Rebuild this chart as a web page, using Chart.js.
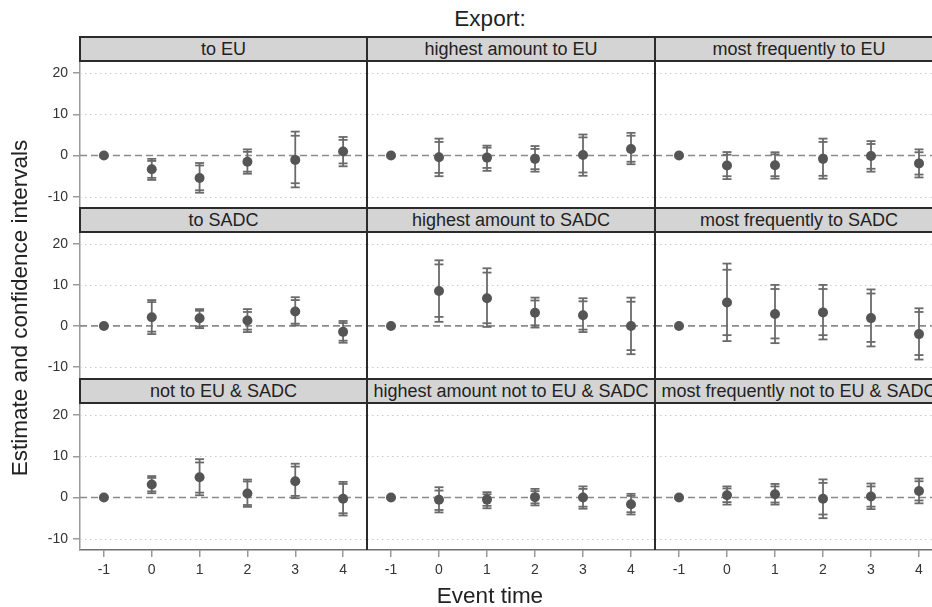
<!DOCTYPE html>
<html>
<head>
<meta charset="utf-8">
<title>Export: event-study estimates</title>
<script src="https://cdn.jsdelivr.net/npm/chart.js@4/dist/chart.umd.min.js"></script>
<style>
  html, body { margin: 0; padding: 0; width: 932px; height: 607px; overflow: hidden; background: #fff;
    font-family: "Liberation Sans", Arial, sans-serif; color: #222; }
  canvas { position: absolute; }
  .strip { position: absolute; box-sizing: border-box; background: #d4d4d4; border: 2px solid #2b2b2b;
    text-align: center; font-size: 18px; line-height: 22px; color: #222; white-space: nowrap; overflow: hidden; }
  .title { position: absolute; white-space: nowrap; text-align: center; color: #222; }
</style>
</head>
<body>
<div id="wrap"></div>
<script>
// Event time on the x axis and the tick values shown on both axes
const eventTime = [-1, 0, 1, 2, 3, 4];
const xTicks = [-1, 0, 1, 2, 3, 4];
const yTicks = [-10, 0, 10, 20];

// Panel headings, row by row
const panelTitles = [
  "to EU", "highest amount to EU", "most frequently to EU",
  "to SADC", "highest amount to SADC", "most frequently to SADC",
  "not to EU & SADC", "highest amount not to EU & SADC", "most frequently not to EU & SADC"
];

// Point estimates, 95% and 90% confidence intervals (t = -1 is the reference period)
const estToEU  = [0, -3.3, -5.45, -1.5, -1.05, 1.0];
const ci95ToEU = [null, [-5.9, -0.8], [-9.0, -1.8], [-4.4, 1.5], [-7.7, 5.8], [-2.6, 4.5]];
const ci90ToEU = [null, [-5.4, -1.3], [-8.4, -2.4], [-3.9, 0.9], [-6.7, 4.8], [-1.9, 3.8]];

const estHighToEU  = [0, -0.4, -0.5, -0.8, 0.15, 1.6];
const ci95HighToEU = [null, [-5.0, 4.1], [-3.7, 2.4], [-3.9, 2.3], [-4.9, 5.1], [-2.1, 5.5]];
const ci90HighToEU = [null, [-4.2, 3.3], [-3.0, 1.9], [-3.3, 1.6], [-4.1, 4.4], [-1.5, 4.8]];

const estFreqToEU  = [0, -2.4, -2.35, -0.8, -0.1, -1.9];
const ci95FreqToEU = [null, [-5.7, 0.85], [-5.6, 0.8], [-5.6, 4.1], [-3.9, 3.5], [-5.3, 1.5]];
const ci90FreqToEU = [null, [-5.0, 0.2], [-5.0, 0.3], [-4.9, 3.3], [-3.2, 2.8], [-4.6, 0.8]];

const estToSADC  = [0, 2.1, 1.85, 1.3, 3.5, -1.45];
const ci95ToSADC = [null, [-2.0, 6.3], [-0.55, 4.1], [-1.5, 4.1], [0.1, 7.0], [-4.1, 1.2]];
const ci90ToSADC = [null, [-1.4, 5.8], [-0.15, 3.7], [-0.9, 3.4], [0.55, 6.3], [-3.6, 0.7]];

const estHighToSADC  = [0, 8.5, 6.75, 3.2, 2.6, 0];
const ci95HighToSADC = [null, [1.0, 16.0], [-0.25, 14.05], [-0.4, 6.9], [-1.5, 6.75], [-6.9, 6.9]];
const ci90HighToSADC = [null, [2.2, 15.0], [0.65, 13.0], [0.15, 6.2], [-0.9, 6.0], [-5.9, 5.9]];

const estFreqToSADC  = [0, 5.7, 2.9, 3.3, 1.9, -2.0];
const ci95FreqToSADC = [null, [-3.7, 15.2], [-4.2, 10.0], [-3.3, 10.0], [-5.0, 8.9], [-8.2, 4.3]];
const ci90FreqToSADC = [null, [-2.25, 13.7], [-3.05, 9.0], [-2.25, 9.0], [-3.9, 7.9], [-7.1, 3.4]];

const estNotEUSADC  = [0, 3.15, 4.9, 1.0, 3.95, -0.3];
const ci95NotEUSADC = [null, [1.05, 5.2], [0.55, 9.3], [-2.25, 4.35], [-0.15, 8.2], [-4.35, 3.8]];
const ci90NotEUSADC = [null, [1.5, 4.75], [1.2, 8.5], [-1.8, 3.9], [0.4, 7.5], [-3.8, 3.3]];

const estHighNotEUSADC  = [0, -0.55, -0.5, 0.1, 0, -1.6];
const ci95HighNotEUSADC = [null, [-3.6, 2.5], [-2.6, 1.3], [-1.9, 2.1], [-2.7, 2.7], [-4.1, 0.9]];
const ci90HighNotEUSADC = [null, [-3.0, 1.7], [-2.0, 0.8], [-1.4, 1.55], [-2.2, 2.1], [-3.55, 0.4]];

const estFreqNotEUSADC  = [0, 0.55, 0.8, -0.3, 0.25, 1.6];
const ci95FreqNotEUSADC = [null, [-1.7, 2.7], [-1.7, 3.3], [-5.0, 4.4], [-2.8, 3.4], [-1.4, 4.6]];
const ci90FreqNotEUSADC = [null, [-1.1, 2.2], [-1.2, 2.7], [-4.1, 3.55], [-2.2, 2.7], [-0.7, 3.95]];

const panelSeries = [
  [estToEU, ci95ToEU, ci90ToEU],
  [estHighToEU, ci95HighToEU, ci90HighToEU],
  [estFreqToEU, ci95FreqToEU, ci90FreqToEU],
  [estToSADC, ci95ToSADC, ci90ToSADC],
  [estHighToSADC, ci95HighToSADC, ci90HighToSADC],
  [estFreqToSADC, ci95FreqToSADC, ci90FreqToSADC],
  [estNotEUSADC, ci95NotEUSADC, ci90NotEUSADC],
  [estHighNotEUSADC, ci95HighNotEUSADC, ci90HighNotEUSADC],
  [estFreqNotEUSADC, ci95FreqNotEUSADC, ci90FreqNotEUSADC]
];

// ---- layout of the 3 x 3 grid (pixels) ----
const COL_X = [80, 367, 655, 943];
const ROW_Y = [[61, 208], [232, 378], [403, 550]];
const STRIP_Y = [36, 207, 378];
const STRIP_H = 26;
const Y_AXIS_W = 50, X_AXIS_H = 40;
const X_RANGE = [-1.5, 4.5], Y_RANGE = [-12.7, 22.9];

const FONT = "'Liberation Sans', Arial, sans-serif";
const MARK = '#555555', BAR = '#6a6a6a', FRAME = '#2b2b2b', AXIS = '#9a9a9a';

const wrap = document.getElementById('wrap');

function addText(cls, text, css) {
  const d = document.createElement('div');
  d.className = cls;
  d.textContent = text;
  Object.assign(d.style, css);
  wrap.appendChild(d);
  return d;
}

// grid lines, zero reference line, CI bars and panel frame
function decorPlugin(ci95, ci90, col) {
  return {
    id: 'panelDecor',
    beforeDatasetsDraw(chart) {
      const { ctx, chartArea: a, scales: { x, y } } = chart;
      ctx.save();
      // dotted horizontal grid
      ctx.strokeStyle = '#c9c9c9';
      ctx.lineWidth = 1.2;
      ctx.setLineDash([1.5, 3.5]);
      yTicks.filter(v => v !== 0).forEach(v => {
        const py = Math.round(y.getPixelForValue(v)) + 0.5;
        ctx.beginPath(); ctx.moveTo(a.left, py); ctx.lineTo(a.right, py); ctx.stroke();
      });
      // dashed line at zero
      ctx.strokeStyle = '#8a8a8a';
      ctx.lineWidth = 1.6;
      ctx.setLineDash([7, 4]);
      const z = y.getPixelForValue(0);
      ctx.beginPath(); ctx.moveTo(a.left, z); ctx.lineTo(a.right, z); ctx.stroke();
      ctx.setLineDash([]);
      // confidence intervals with caps for 95% and 90%
      ctx.strokeStyle = BAR;
      ctx.lineWidth = 1.8;
      const cap = 4.5;
      eventTime.forEach((t, i) => {
        if (!ci95[i]) return;
        const px = x.getPixelForValue(t);
        const lo = y.getPixelForValue(ci95[i][0]), hi = y.getPixelForValue(ci95[i][1]);
        ctx.beginPath(); ctx.moveTo(px, lo); ctx.lineTo(px, hi); ctx.stroke();
        [ci95[i][0], ci95[i][1], ci90[i][0], ci90[i][1]].forEach(v => {
          const py = y.getPixelForValue(v);
          ctx.beginPath(); ctx.moveTo(px - cap, py); ctx.lineTo(px + cap, py); ctx.stroke();
        });
      });
      ctx.restore();
    },
    afterDraw(chart) {
      const { ctx, chartArea: a } = chart;
      ctx.save();
      ctx.strokeStyle = FRAME;
      ctx.lineWidth = 2;
      ctx.beginPath(); ctx.moveTo(a.right, a.top); ctx.lineTo(a.right, a.bottom); ctx.stroke();
      if (col > 0) {
        ctx.beginPath(); ctx.moveTo(a.left, a.top); ctx.lineTo(a.left, a.bottom); ctx.stroke();
      }
      ctx.restore();
    }
  };
}

function makePanel(idx) {
  const col = idx % 3, row = Math.floor(idx / 3);
  const showY = col === 0, showX = row === 2;
  const [est, ci95, ci90] = panelSeries[idx];
  const plotL = COL_X[col], plotR = COL_X[col + 1];
  const [plotT, plotB] = ROW_Y[row];
  const yw = showY ? Y_AXIS_W : 0, xh = showX ? X_AXIS_H : 0;

  const cv = document.createElement('canvas');
  cv.width = plotR - plotL + yw;
  cv.height = plotB - plotT + xh;
  cv.style.left = (plotL - yw) + 'px';
  cv.style.top = plotT + 'px';
  cv.style.width = cv.width + 'px';
  cv.style.height = cv.height + 'px';
  wrap.appendChild(cv);

  const axisCommon = {
    grid: { drawOnChartArea: false, color: AXIS, tickColor: AXIS, tickLength: 7, lineWidth: 1.5 },
    ticks: { font: { family: FONT, size: 14 }, color: '#333', padding: 5, autoSkip: false,
             maxRotation: 0, callback: v => String(v) }
  };

  new Chart(cv, {
    type: 'scatter',
    data: {
      datasets: [{
        data: eventTime.map((t, i) => ({ x: t, y: est[i] })),
        pointRadius: 5,
        pointBackgroundColor: MARK,
        pointBorderColor: MARK,
        pointBorderWidth: 0,
        showLine: false
      }]
    },
    options: {
      responsive: false,
      animation: false,
      events: [],
      layout: { padding: 0, autoPadding: false },
      plugins: { legend: { display: false }, tooltip: { enabled: false } },
      scales: {
        x: Object.assign({}, axisCommon, {
          type: 'linear', min: X_RANGE[0], max: X_RANGE[1], display: showX,
          border: { display: true, color: '#6e6e6e', width: 1.5 },
          afterBuildTicks: s => { s.ticks = xTicks.map(v => ({ value: v })); },
          afterFit: s => { s.height = xh; s.paddingLeft = 0; s.paddingRight = 0; }
        }),
        y: Object.assign({}, axisCommon, {
          type: 'linear', min: Y_RANGE[0], max: Y_RANGE[1], display: showY,
          border: { display: true, color: AXIS, width: 1.5 },
          afterBuildTicks: s => { s.ticks = yTicks.map(v => ({ value: v })); },
          afterFit: s => { s.width = yw; s.paddingTop = 0; s.paddingBottom = 0; }
        })
      }
    },
    plugins: [decorPlugin(ci95, ci90, col)]
  });

  // panel heading strip
  addText('strip', panelTitles[idx], {
    left: (plotL - 1) + 'px', top: STRIP_Y[row] + 'px',
    width: (plotR - plotL + 2) + 'px', height: STRIP_H + 'px'
  });
}

for (let i = 0; i < 9; i++) makePanel(i);

addText('title', 'Export:', { left: '390px', top: '8px', width: '200px', fontSize: '22.5px', lineHeight: '22px' });
addText('title', 'Event time', { left: '390px', top: '585px', width: '200px', fontSize: '22.5px', lineHeight: '22px' });
addText('title', 'Estimate and confidence intervals', {
  left: '20px', top: '308px', width: '400px', fontSize: '22.5px', lineHeight: '22px',
  transform: 'translate(-50%, -50%) rotate(-90deg)'
});
</script>
</body>
</html>
